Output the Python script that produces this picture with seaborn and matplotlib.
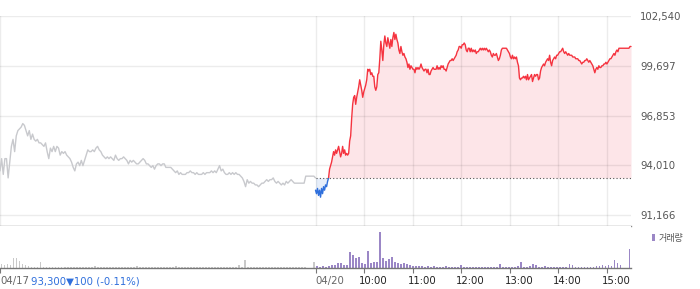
import numpy as np
import pandas as pd
import matplotlib
matplotlib.use("Agg")
import matplotlib.pyplot as plt
import seaborn as sns
from matplotlib.patches import Rectangle, Patch
from matplotlib.transforms import ScaledTranslation

# ---------------- data ----------------
prev_close = 93300            # 04/17 close (baseline of 04/20)
change_text = "93,300\u25bc100 (-0.11%)"

price_ticks = [91166, 94010, 96853, 99697, 102540]
price_tick_labels = ["91,166", "94,010", "96,853", "99,697", "102,540"]

# session hours: 04/17 09:00-15:30 -> 0..6.5, 04/20 09:00-15:30 -> 6.5..13
day1_span = (0.0, 6.5)
day2_span = (6.5, 13.0)
grid_hours = [0, 1, 2, 3, 4, 5, 6, 6.5, 7.5, 8.5, 9.5, 10.5, 11.5, 12.5]
axis_ticks = [0, 6.5, 7.5, 8.5, 9.5, 10.5, 11.5, 12.5]
axis_tick_labels = ["04/17", "04/20", "10:00", "11:00", "12:00", "13:00", "14:00", "15:00"]

apr17_price = [
    93700, 94400, 93500, 94400, 94400, 93300, 94200, 95100, 95500, 94800,
    95700, 96000, 96100, 96200, 96400, 96300, 96000, 95700, 96000, 95500,
    95800, 95500, 95400, 95500, 95300, 95300, 95200, 95100, 95300, 94800,
    94400, 95000, 94800, 95100, 94800, 95100, 95000, 94600, 94800, 94700,
    94800, 94600, 94500, 94400, 94200, 93900, 93700, 94100, 94200, 94000,
    94300, 94000, 94300, 94600, 94900, 94800, 94800, 94900, 94800, 95000,
    95100, 94900, 94800, 94600, 94500, 94400, 94500, 94400, 94500, 94400,
    94300, 94600, 94400, 94300, 94400, 94400, 94500, 94400, 94300, 94100,
    94300, 94200, 94300, 94200, 94100, 94100, 94200, 94300, 94400, 94300,
    94100, 94100, 94000, 93900, 94000, 93800, 94000, 94100, 94100, 94000,
    94100, 94100, 93900,
    93900, 93900, 93900, 93800, 93700, 93600, 93700, 93500, 93600, 93500,
    93500, 93500, 93600, 93600, 93700, 93600, 93600, 93500, 93600, 93500,
    93500, 93500, 93600, 93500, 93600, 93600, 93600, 93700, 93600, 93700,
    93600, 93800, 94000, 93700, 93800, 93600, 93500, 93500, 93600, 93500,
    93600, 93500, 93600, 93500, 93500, 93400, 93300, 93100, 92800, 93200,
    93000, 93100, 93000, 93000, 92900, 92900, 92800, 92900, 93000, 93000,
    93100, 93200, 93100, 93200, 93200, 93300, 93100, 93000, 93100, 93000,
    92900, 93000, 92900, 93100, 93000, 93100, 93200, 93100, 93000, 93000,
    93000, 93000, 93000, 93000, 93000, 93400, 93400, 93400, 93400, 93400,
    93400, 93300,
]

apr20_price = [
    92600, 92400, 92700, 92300, 92600, 92200, 92700, 92400, 92800, 92600,
    92900, 92800, 93100, 93300,
    93800, 94000, 94200, 94500, 94800, 94600, 94900, 94700, 94900, 95100,
    94800, 94500, 94700, 95100, 94700, 94900, 94600, 94700, 94600, 94700,
    95400, 95700, 96700,
    97500, 97900, 98000, 97500, 97900, 98200, 98500, 98900, 98600, 98300,
    97900, 98200, 98400, 98600, 98900, 99500, 99400, 99500, 99200, 99300,
    99100, 99100, 98500, 98300, 98500, 99200, 99300, 100100, 101100, 100600,
    100000, 100900, 101400, 101000, 100800, 101300, 101000, 100700, 101200, 100800,
    101300, 101600, 101200, 101500, 101200, 101000, 100600, 100400, 100800, 100500,
    100300, 100400, 100200, 100100, 99900, 99600, 99800, 99500, 99700, 99600,
    99500, 99500, 99300, 99600, 99500, 99600, 99500,
    99600, 99800, 99600, 99500, 99400, 99500, 99500, 99300, 99500, 99200,
    99200, 99400, 99500, 99600, 99500, 99500, 99500, 99700, 99500, 99600,
    99500, 99700, 99600, 99700, 99500, 99500, 99400, 99600, 99800, 99900,
    100000, 100000, 100100, 100000, 100100, 100200, 100300, 100500, 100600, 100800,
    100800, 100700, 100900, 100900, 101000, 100900, 100600, 100500, 100700, 100700,
    100500, 100700, 100500, 100600, 100500, 100600, 100400, 100500, 100500, 100600,
    100700, 100600, 100700, 100600, 100700, 100600, 100700, 100600, 100500, 100600,
    100500, 100300, 100200, 100400, 100300, 100300, 100400, 100200, 100000, 100100,
    100300, 100600, 100700, 100700, 100700, 100700, 100700, 100600, 100500, 100400,
    100200, 100100, 100300, 100100, 100200, 100100, 100200, 99900, 99700, 99000,
    98900, 99000, 99000, 99100, 99000, 99100,
    98900, 99200, 98900, 99000, 99100, 99200, 98800, 99000, 99200, 99100,
    99200, 99200, 98900, 99000, 99400, 99600, 99700, 99800, 99700, 99900,
    100000, 100100, 100000, 100300, 99900, 99700, 100000, 100100, 100200, 100100,
    100300, 100300, 100400, 100500, 100500, 100600, 100700, 100500, 100400, 100500,
    100400, 100300, 100400, 100300, 100300, 100300, 100200, 100200, 100200, 100100,
    100100, 100100, 100000, 100000, 99900, 99800, 99900, 99900, 100000, 100000,
    100100, 100000, 99900, 100000, 99900, 99800, 99700, 99500, 99300, 99500,
    99600, 99500, 99700, 99600, 99600, 99700, 99700, 99800, 99800, 99900,
    99800, 99900, 100000, 100100, 100100, 100200, 100300, 100400, 100300, 100500,
    100600, 100500, 100700, 100700, 100700, 100700, 100700, 100700, 100700, 100700,
    100700, 100700, 100700, 100800, 100800,
]

apr17_volume = [
    4000, 3000, 4000, 3500, 10700, 10000, 7000, 4000, 3000, 2000,
    1500, 1500, 1000, 6000, 1000, 1200, 1000, 1000, 1200, 1000,
    1000, 1100, 1000, 1000, 1200, 1000, 1000, 1000, 1000, 1500,
    1000, 2300, 1000, 1200, 1000, 900, 1000, 1000, 900, 1000,
    1000, 1100, 1000, 900, 1000, 2300, 1000, 900, 1000, 1000,
    1100, 1000, 900, 1000, 1000, 1700, 1800, 1700, 1900, 1700,
    1800, 1000, 900, 1000, 1000, 1100, 900, 1000, 1000, 1000,
    1000, 1000, 900, 1000, 1100, 1000, 1000, 1200, 1300, 3000,
    1500, 8000, 1500, 1200, 1300, 1200, 1300, 1400, 1300, 1200,
    1300, 1200, 1300, 1400, 1300, 1200, 1300, 1400, 1300, 1200,
    1300, 1200, 0, 0, 6000,
]

apr20_volume = [
    2000, 1700, 2000, 1500, 2000, 3300, 3500, 5700, 5000, 3300,
    3300, 16700, 13300, 10000, 11700, 5000, 4500, 17300, 5000, 6700,
    6700, 36300, 10000, 7000, 9000, 11700, 6000, 5000, 4500, 5500,
    4300, 3500, 2500, 2500, 2500, 2000, 1800, 2200, 1700, 2000,
    1500, 1800, 1600, 2000, 1500, 1400, 1800, 1500, 3300, 1500,
    1300, 1600, 1400, 1500, 1300, 1600, 1200, 1500, 1400, 1300,
    1600, 4300, 1500, 1300, 1400, 1200, 1500, 2000, 6300, 1800,
    1400, 2000, 4300, 3500, 1500, 1300, 2700, 1400, 1200, 1500,
    1300, 1400, 1200, 1500, 4300, 3000, 1500, 1300, 1500, 1400,
    1600, 1500, 1800, 2000, 2700, 3000, 2500, 3700, 2800, 8000,
    5000, 3000, 0, 0, 19700,
]

# ---------------- styling ----------------
RED = "#f5333f"
PINK = "#fde5e8"
BLUE = "#2f6fdc"
LBLUE = "#e6eefa"
GRAY_LINE = "#c8c9cd"
PURPLE = "#9b87c6"
GRAY_VOL = "#c9c9c9"
TXT_GRAY = "#666666"
TXT_BLUE = "#2f6fdc"

sns.set_theme(style="white")
plt.rcParams["font.family"] = ["DejaVu Sans", "Noto Sans CJK KR"]

W, H = 700, 289
fig = plt.figure(figsize=(W / 100, H / 100), dpi=100)
fig.patch.set_facecolor("white")
ax = fig.add_axes([0, (H - 225.5) / H, 631 / W, 209.5 / H])
axv = fig.add_axes([0, (H - 268.3) / H, 631 / W, 42.3 / H], sharex=ax)

p1 = np.array(apr17_price, dtype=float)
p2 = np.array(apr20_price, dtype=float)
t1 = np.linspace(day1_span[0], day1_span[1], len(p1))
t2 = np.linspace(day2_span[0], day2_span[1], len(p2))
df1 = pd.DataFrame({"t": t1, "p": p1})
df2 = pd.DataFrame({"t": t2, "p": p2})

# fills relative to previous close
ax.fill_between(t2, p2, prev_close, where=p2 >= prev_close, interpolate=True,
                color=PINK, lw=0, zorder=0.3)
ax.fill_between(t2, p2, prev_close, where=p2 <= prev_close, interpolate=True,
                color=LBLUE, lw=0, zorder=0.3)

# lines
sns.lineplot(data=df1, x="t", y="p", ax=ax, color=GRAY_LINE, lw=1.0,
             estimator=None, sort=False)
sns.lineplot(data=df2, x="t", y="p", ax=ax, color=RED, lw=1.0,
             estimator=None, sort=False)
red_line = ax.lines[-1]
sns.lineplot(data=df2, x="t", y="p", ax=ax, color=BLUE, lw=1.0,
             estimator=None, sort=False)
blue_line = ax.lines[-1]
clip_up = Rectangle((day2_span[0] - 0.5, prev_close), 10, 50000, transform=ax.transData)
clip_dn = Rectangle((day2_span[0] - 0.5, prev_close - 50000), 10, 50000, transform=ax.transData)
red_line.set_clip_path(clip_up)
blue_line.set_clip_path(clip_dn)

ax.hlines(prev_close, day2_span[0], day2_span[1], colors="#555555",
          linestyles=(0, (1, 2)), lw=0.8, zorder=3)

ax.set_xlim(0, 13)
ax.set_ylim(90584, 102540)
ax.set_xlabel("")
ax.set_ylabel("")
ax.set_xticks(grid_hours)
ax.tick_params(axis="x", length=0, labelbottom=False)
ax.yaxis.tick_right()
ax.set_yticks(price_ticks, price_tick_labels)
ax.tick_params(axis="y", length=0, pad=6.5, labelsize=7.3, labelcolor="#555555")
ax.grid(True, color="black", alpha=0.075, lw=1.0)
ax.set_axisbelow(True)
for s in ["top", "left", "right"]:
    ax.spines[s].set_visible(False)
ax.spines["bottom"].set_color("#8a8a8a")
ax.spines["bottom"].set_linewidth(1.0)
ax.set_facecolor("white")

# volume
n1, n2 = len(apr17_volume), len(apr20_volume)
step1 = (day1_span[1] - day1_span[0]) / n1
step2 = (day2_span[1] - day2_span[0]) / n2
tv1 = np.linspace(day1_span[0], day1_span[1], n1, endpoint=False) + step1 / 2
tv2 = np.linspace(day2_span[0], day2_span[1], n2, endpoint=False) + step2 / 2
axv.bar(tv1, apr17_volume, width=step1 * 0.6, color=GRAY_VOL, lw=0)
axv.bar(tv2, apr20_volume, width=step2 * 0.6, color=PURPLE, lw=0)
axv.set_ylim(0, 42300)
axv.set_xlim(0, 13)
axv.set_yticks([])
for s in ["top", "left", "right"]:
    axv.spines[s].set_visible(False)
axv.spines["bottom"].set_color("#777777")
axv.spines["bottom"].set_linewidth(1.0)
axv.set_xticks(axis_ticks, axis_tick_labels)
axv.tick_params(axis="x", length=3.6, width=0.8, color="#777777", pad=2.3,
                labelsize=7.3, bottom=True, direction="out")
for lab, txt in zip(axv.get_xticklabels(), axis_tick_labels):
    lab.set_ha("left")
    if txt.startswith("04/"):
        lab.set_color(TXT_GRAY)
    else:
        lab.set_color("#222222")
        lab.set_transform(lab.get_transform() + ScaledTranslation(-5 / 100, 0, fig.dpi_scale_trans))
axv.annotate(change_text, xy=(0, 0), xycoords=("data", "axes fraction"),
             xytext=(31 * 0.72, -(3.6 + 2.3)), textcoords="offset points",
             ha="left", va="top", fontsize=7.3, color=TXT_BLUE)

fig.legend(handles=[Patch(facecolor=PURPLE, edgecolor="none", label="거래량")],
           loc="center left", bbox_to_anchor=(652 / W, 1 - 238 / H),
           frameon=False, fontsize=6.5, handlelength=0.35, handleheight=0.85,
           handletextpad=0.35, borderpad=0, borderaxespad=0, labelcolor="#555555")

fig.savefig("out.png", dpi=100, facecolor="white")
